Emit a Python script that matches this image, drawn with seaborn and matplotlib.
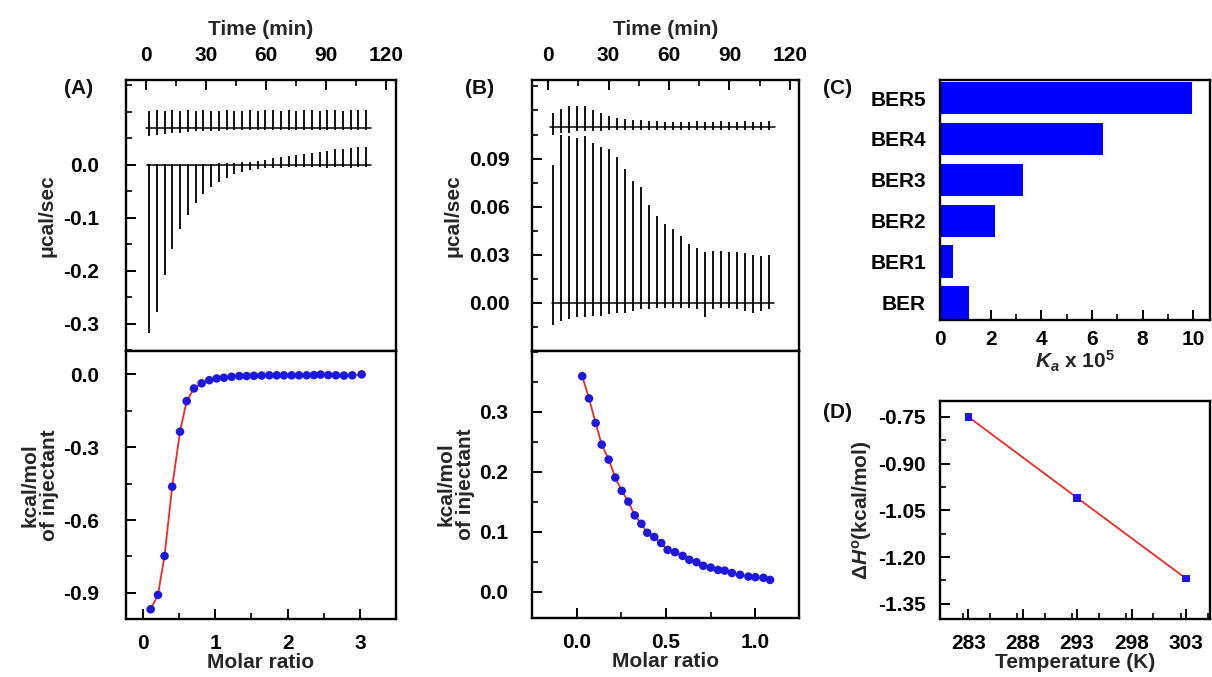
import matplotlib

matplotlib.use("Agg")
import matplotlib.pyplot as plt
import pandas as pd
import seaborn as sns
from matplotlib.ticker import FormatStrFormatter, MultipleLocator

W, H = 1212, 677
BLUE = "#1f17d9"
BAR_BLUE = "#0000ff"
RED = "#ec2a2a"
FS = 15

# ---- (A) raw ITC thermogram (time in min, power in ucal/s)
A_TIMES = [1.5, 5.4, 9.3, 13.1, 17.0, 20.9, 24.8, 28.6, 32.5, 36.4, 40.3, 44.1, 48.0, 51.9, 55.8,
           59.6, 63.5, 67.4, 71.3, 75.1, 79.0, 82.9, 86.8, 90.6, 94.5, 98.4, 102.3, 106.1, 110.0]
A_SAMPLE_DOWN = [-0.317, -0.277, -0.207, -0.159, -0.121, -0.094, -0.071, -0.055, -0.042, -0.032,
                 -0.024, -0.018, -0.013, -0.010, -0.008, -0.006, -0.005, -0.005, -0.004, -0.004,
                 -0.004, -0.004, -0.004, -0.005, -0.004, -0.004, -0.005, -0.004, -0.004]
A_SAMPLE_UP = [0.002, 0.002, 0.002, 0.002, 0.002, 0.002, 0.002, 0.002, 0.002, 0.003, 0.003, 0.004,
               0.005, 0.006, 0.008, 0.010, 0.012, 0.014, 0.017, 0.019, 0.021, 0.023, 0.025, 0.027,
               0.029, 0.030, 0.032, 0.033, 0.033]
A_SAMPLE_SPAN = [0.5, 112.5]
A_REF_BASE = 0.069
A_REF_UP = [0.101, 0.103, 0.102, 0.103, 0.102, 0.103, 0.102, 0.103, 0.102, 0.102, 0.103, 0.102,
            0.102, 0.103, 0.102, 0.103, 0.104, 0.102, 0.103, 0.102, 0.103, 0.103, 0.102, 0.104,
            0.103, 0.102, 0.103, 0.103, 0.104]
A_REF_DIP = [0.055, 0.057, 0.058, 0.060, 0.061, 0.062, 0.063, 0.063, 0.064, 0.064, 0.065, 0.065,
             0.065, 0.066, 0.066, 0.066, 0.066, 0.066, 0.066, 0.066, 0.066, 0.066, 0.066, 0.066,
             0.066, 0.066, 0.066, 0.066, 0.066]
A_REF_SPAN = [0.0, 112.5]

# ---- (A) integrated heats
A_RATIO = [0.106, 0.207, 0.298, 0.404, 0.512, 0.604, 0.705, 0.811, 0.917, 1.019, 1.120, 1.226,
           1.332, 1.434, 1.535, 1.641, 1.747, 1.849, 1.950, 2.056, 2.158, 2.264, 2.365, 2.457,
           2.563, 2.669, 2.780, 2.895, 3.025]
A_HEAT = [-0.967, -0.908, -0.748, -0.463, -0.237, -0.111, -0.059, -0.038, -0.025, -0.018, -0.015,
          -0.011, -0.008, -0.008, -0.007, -0.006, -0.005, -0.005, -0.005, -0.005, -0.005, -0.005,
          -0.004, -0.002, -0.004, -0.005, -0.006, -0.005, -0.001]

# ---- (B) raw ITC thermogram
B_TIMES = [2.6, 6.6, 10.5, 14.5, 18.5, 22.4, 26.4, 30.3, 34.3, 38.3, 42.2, 46.2, 50.1, 54.1,
           58.1, 62.0, 66.0, 69.9, 73.9, 77.9, 81.8, 85.8, 89.7, 93.7, 97.7, 101.6, 105.6, 109.6]
B_SAMPLE_UP = [0.086, 0.105, 0.104, 0.103, 0.104, 0.100, 0.097, 0.096, 0.091, 0.0835, 0.076,
               0.072, 0.061, 0.054, 0.049, 0.046, 0.042, 0.037, 0.034, 0.032, 0.0325, 0.0325,
               0.032, 0.032, 0.031, 0.030, 0.029, 0.030]
B_SAMPLE_DIP = [-0.014, -0.011, -0.010, -0.009, -0.009, -0.008, -0.008, -0.007, -0.006, -0.006,
                -0.005, -0.004, -0.004, -0.003, -0.003, -0.003, -0.003, -0.003, -0.004, -0.009,
                -0.004, -0.003, -0.003, -0.004, -0.005, -0.006, -0.005, -0.004]
B_SAMPLE_SPAN = [2.0, 112.0]
B_REF_BASE = 0.1095
B_REF_UP = [0.1185, 0.121, 0.1227, 0.1229, 0.1227, 0.1206, 0.1185, 0.1165, 0.115, 0.1145, 0.114,
            0.114, 0.1135, 0.1135, 0.113, 0.113, 0.113, 0.113, 0.1135, 0.113, 0.113, 0.1135,
            0.113, 0.113, 0.1135, 0.113, 0.113, 0.1135]
B_REF_DIP = [0.105, 0.106, 0.106, 0.107, 0.107, 0.107, 0.107, 0.108, 0.108, 0.108, 0.108, 0.108,
             0.108, 0.108, 0.108, 0.108, 0.108, 0.108, 0.108, 0.108, 0.108, 0.108, 0.108, 0.108,
             0.108, 0.108, 0.108, 0.108]
B_REF_SPAN = [1.0, 112.5]

# ---- (B) integrated heats
B_RATIO = [0.031, 0.069, 0.106, 0.140, 0.179, 0.216, 0.252, 0.289, 0.325, 0.362, 0.395, 0.434,
           0.473, 0.509, 0.550, 0.593, 0.630, 0.671, 0.708, 0.750, 0.791, 0.828, 0.869, 0.914,
           0.961, 1.000, 1.045, 1.082]
B_HEAT = [0.359, 0.322, 0.281, 0.245, 0.220, 0.190, 0.168, 0.150, 0.127, 0.113, 0.098, 0.091,
          0.081, 0.0695, 0.0657, 0.0595, 0.053, 0.049, 0.043, 0.040, 0.036, 0.035, 0.031, 0.028,
          0.025, 0.024, 0.023, 0.0195]

# ---- (C) association constants
C_LIGANDS = ["BER5", "BER4", "BER3", "BER2", "BER1", "BER"]
C_KA = [9.94, 6.45, 3.29, 2.17, 0.50, 1.14]

# ---- (D) enthalpy vs temperature
D_TEMP = [283, 293, 303]
D_DH = [-0.750, -1.010, -1.269]


def add_ax(fig, left, top, right, bottom):
    return fig.add_axes([left / W, 1 - bottom / H, (right - left) / W, (bottom - top) / H])


def px(x, y):
    return x / W, 1 - y / H


def draw_trace(ax, times, base, lows, highs, span):
    sns.lineplot(x=span, y=[base, base], color="black", lw=1.1, ax=ax)
    ax.vlines(times, lows, highs, color="black", lw=1.3)


def thermo_axes(ax, xlim, ylim, yticks, yminor, yfmt, ylab_pad):
    ax.set_xlim(*xlim)
    ax.set_ylim(*ylim)
    ax.xaxis.tick_top()
    ax.xaxis.set_label_position("top")
    ax.set_xlabel("Time (min)", labelpad=8)
    ax.xaxis.set_major_locator(MultipleLocator(30))
    ax.xaxis.set_minor_locator(MultipleLocator(15))
    ax.set_yticks(yticks)
    ax.yaxis.set_minor_locator(MultipleLocator(yminor))
    ax.yaxis.set_major_formatter(FormatStrFormatter(yfmt))
    ax.tick_params(axis="x", which="both", direction="in", top=True, bottom=False,
                   labeltop=True, labelbottom=False, pad=11)
    ax.tick_params(axis="y", which="both", direction="in", left=True, right=False, pad=ylab_pad)
    ax.set_ylabel("μcal/sec", labelpad=5)


def heat_axes(ax, xlim, ylim, xticks, xminor, xfmt, yticks, yminor, yfmt, ylab_pad):
    ax.set_xlim(*xlim)
    ax.set_ylim(*ylim)
    ax.set_xticks(xticks)
    ax.xaxis.set_minor_locator(MultipleLocator(xminor))
    ax.xaxis.set_major_formatter(FormatStrFormatter(xfmt))
    ax.set_yticks(yticks)
    ax.yaxis.set_minor_locator(MultipleLocator(yminor))
    ax.yaxis.set_major_formatter(FormatStrFormatter(yfmt))
    ax.tick_params(axis="x", which="both", direction="in", top=False, bottom=True, pad=11)
    ax.tick_params(axis="y", which="both", direction="in", left=True, right=False, pad=ylab_pad)
    ax.set_xlabel("Molar ratio", labelpad=0)
    ax.set_ylabel("kcal/mol\nof injectant", labelpad=3, linespacing=1.05)


def draw_heats(ax, ratio, heat):
    df = pd.DataFrame({"ratio": ratio, "heat": heat})
    sns.lineplot(data=df, x="ratio", y="heat", color=RED, lw=1.3, sort=False,
                 estimator=None, ax=ax)
    sns.scatterplot(data=df, x="ratio", y="heat", color=BLUE, s=38, edgecolor="none",
                    zorder=3, ax=ax)


def main():
    sns.set_theme(style="ticks")
    plt.rcParams.update({
        "font.family": ["Liberation Sans", "DejaVu Sans"],
        "font.weight": "bold",
        "font.size": FS,
        "axes.labelweight": "bold",
        "axes.labelsize": FS,
        "xtick.labelsize": FS,
        "ytick.labelsize": FS,
        "axes.linewidth": 1.7,
        "axes.edgecolor": "black",
        "axes.unicode_minus": False,
        "xtick.major.size": 7,
        "ytick.major.size": 7,
        "xtick.minor.size": 4,
        "ytick.minor.size": 4,
        "xtick.major.width": 1.4,
        "ytick.major.width": 1.4,
        "xtick.minor.width": 1.2,
        "ytick.minor.width": 1.2,
        "xtick.color": "black",
        "ytick.color": "black",
        "text.color": "#111111",
        "mathtext.fontset": "custom",
        "mathtext.rm": "Liberation Sans:bold",
        "mathtext.it": "Liberation Sans:italic:bold",
        "mathtext.bf": "Liberation Sans:bold",
    })

    fig = plt.figure(figsize=(W / 100, H / 100), dpi=100)

    # (A) top: raw data
    ax = add_ax(fig, 126, 80, 396, 351)
    draw_trace(ax, A_TIMES, 0.0, A_SAMPLE_DOWN, A_SAMPLE_UP, A_SAMPLE_SPAN)
    draw_trace(ax, A_TIMES, A_REF_BASE, A_REF_DIP, A_REF_UP, A_REF_SPAN)
    thermo_axes(ax, (-10, 125), (-0.351, 0.16), [-0.3, -0.2, -0.1, 0.0], 0.05, "%.1f", 19)

    # (A) bottom: integrated heats
    ax = add_ax(fig, 126, 351, 396, 619)
    draw_heats(ax, A_RATIO, A_HEAT)
    heat_axes(ax, (-0.235, 3.5), (-1.007, 0.095), [0, 1, 2, 3], 0.5, "%d",
              [-0.9, -0.6, -0.3, 0.0], 0.15, "%.1f", 19)

    # (B) top: raw data
    ax = add_ax(fig, 532, 80, 799, 351)
    draw_trace(ax, B_TIMES, 0.0, B_SAMPLE_DIP, B_SAMPLE_UP, B_SAMPLE_SPAN)
    draw_trace(ax, B_TIMES, B_REF_BASE, B_REF_DIP, B_REF_UP, B_REF_SPAN)
    thermo_axes(ax, (-8, 124.5), (-0.030, 0.139), [0.0, 0.03, 0.06, 0.09], 0.015, "%.2f", 16)

    # (B) bottom: integrated heats
    ax = add_ax(fig, 532, 351, 799, 618)
    draw_heats(ax, B_RATIO, B_HEAT)
    heat_axes(ax, (-0.25, 1.244), (-0.044, 0.401), [0.0, 0.5, 1.0], 0.25, "%.1f",
              [0.0, 0.1, 0.2, 0.3], 0.05, "%.1f", 17)

    # (C) binding constants
    ax = add_ax(fig, 940, 80, 1210, 320)
    sns.barplot(x=C_KA, y=C_LIGANDS, order=C_LIGANDS, orient="h", color=BAR_BLUE,
                saturation=1, width=0.8, edgecolor="none", ax=ax)
    ax.set_xlim(0, 10.66)
    ax.set_ylim(5.42, -0.44)
    ax.xaxis.set_major_locator(MultipleLocator(2))
    ax.xaxis.set_minor_locator(MultipleLocator(1))
    ax.tick_params(axis="x", which="both", direction="in", pad=7)
    ax.tick_params(axis="y", length=0, pad=10)
    ax.set_xlabel(r"$K_a$ x 10$^5$", labelpad=0)
    ax.set_ylabel("")

    # (D) enthalpy vs temperature
    ax = add_ax(fig, 940, 401, 1210, 619)
    df = pd.DataFrame({"temp": D_TEMP, "dh": D_DH})
    sns.lineplot(data=df, x="temp", y="dh", color=RED, lw=1.3, ax=ax)
    sns.scatterplot(data=df, x="temp", y="dh", marker="s", color=BLUE, s=30,
                    edgecolor="none", zorder=3, ax=ax)
    ax.set_xlim(280.4, 305.2)
    ax.set_ylim(-1.399, -0.699)
    ax.set_xticks([283, 288, 293, 298, 303])
    ax.xaxis.set_minor_locator(MultipleLocator(2.5))
    ax.set_yticks([-1.35, -1.20, -1.05, -0.90, -0.75])
    ax.yaxis.set_minor_locator(MultipleLocator(0.075))
    ax.yaxis.set_major_formatter(FormatStrFormatter("%.2f"))
    ax.tick_params(axis="both", which="both", direction="in")
    ax.tick_params(axis="x", pad=11)
    ax.tick_params(axis="y", pad=10)
    ax.set_xlabel("Temperature (K)", labelpad=0)
    ax.set_ylabel(r"Δ$H^{\mathrm{o}}$(kcal/mol)", labelpad=3)

    for ax in fig.axes:
        for spine in ax.spines.values():
            spine.set_visible(True)

    for label, (x, y) in {"(A)": (79, 89), "(B)": (480, 89), "(C)": (838, 89),
                          "(D)": (838, 412)}.items():
        fig.text(*px(x, y), label, ha="center", va="center", fontsize=FS, fontweight="bold")

    fig.savefig("out.png", dpi=100, facecolor="white")


if __name__ == "__main__":
    main()
